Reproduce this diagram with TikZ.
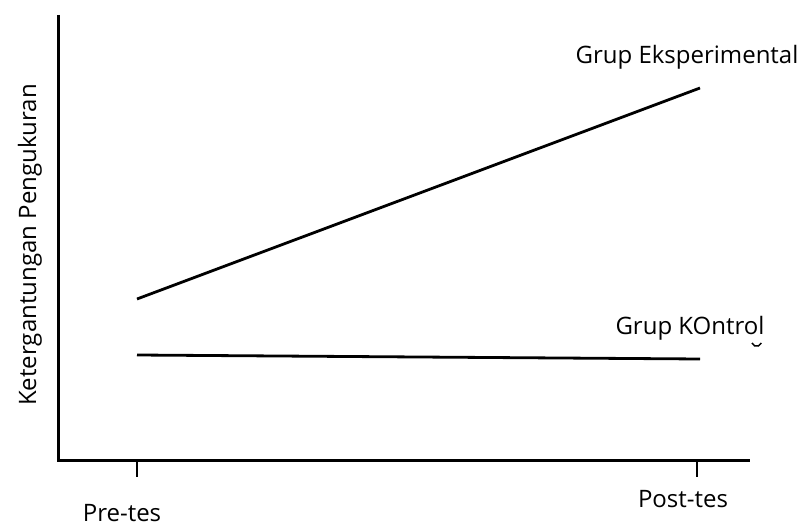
\documentclass[tikz,border=0pt]{standalone}
\usepackage{fontspec}
\setmainfont{Open Sans}
\usetikzlibrary{positioning}

\tikzset{
  axis/.style={line width=3pt},
  dataline/.style={line width=2.8pt},
  tick/.style={line width=2pt},
  lbl/.style={font=\fontsize{24}{27}\selectfont, inner sep=0pt}
}

\begin{document}
\begin{tikzpicture}[x=1pt, y=-1pt]
  \useasboundingbox (0,0) rectangle (806,529);
  % titik
  \coordinate (O) at (58,460);
  \coordinate (ytop) at (58,15);
  \coordinate (xend) at (750,460);
  \coordinate (pre) at (137,460);
  \coordinate (post) at (697,460);
  \coordinate (preB) at (137,477);
  \coordinate (postB) at (697,477);
  \coordinate (exp1) at (137,299);
  \coordinate (exp2) at (700,88);
  \coordinate (kon1) at (137,355);
  \coordinate (kon2) at (700,359);

  % label
  \node[lbl] (pretes) at (122,513) {Pre-tes};
  \node[lbl] (posttes) at (683,499) {Post-tes};
  \node[lbl, rotate=90] (ylab) at (30,245) {Ketergantungan Pengukuran};
  \node[lbl] (eksp) at (687,57) {Grup Eksperimental};
  \node[lbl] (kontrol) at (690,328) {Grup KOntrol};

  % sumbu
  \draw[axis] (ytop) -- (O) -- (xend);
  \draw[tick] (pre) -- (preB);
  \draw[tick] (post) -- (postB);

  % garis
  \draw[dataline] (exp1) -- (exp2);
  \draw[dataline] (kon1) -- (kon2);
  \draw[line width=1.5pt] (752,343) arc (160:20:5);
\end{tikzpicture}
\end{document}
